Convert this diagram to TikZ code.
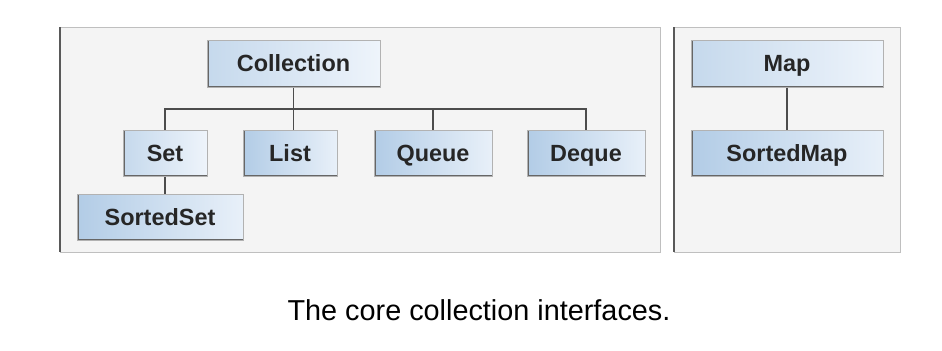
\documentclass[tikz,border=0pt]{standalone}
\usepackage{fontspec}
\setmainfont{Liberation Sans}
\usepackage{xcolor}
\usepackage{tikz}
\usetikzlibrary{positioning,calc,backgrounds}
\definecolor{boxblue}{RGB}{178,204,230}
\definecolor{boxpale}{RGB}{238,244,251}
\definecolor{panelgray}{RGB}{244,244,244}

\begin{document}
\begin{tikzpicture}[
  iface/.style={rectangle,draw=black!30,line width=0.6pt,
               left color=boxblue!75,right color=boxpale,
               minimum width=2.8cm,minimum height=1.4cm,align=center,
               text height=13pt,text depth=0pt,
               font=\fontsize{20}{24}\selectfont\bfseries,text=black!85,
               path picture={\draw[line width=2.6pt,black!60]
                 (path picture bounding box.north west) --
                 (path picture bounding box.south west) --
                 (path picture bounding box.south east);}},
  dark/.style={left color=boxblue,right color=boxpale!90!boxblue},
  panel/.style={fill=panelgray,draw=black!25,line width=0.8pt},
  panelside/.style={black!65,line width=1.4pt},
  link/.style={black!70,line width=1.2pt},
  captext/.style={font=\fontsize{24.6}{28}\selectfont}
]
\useasboundingbox (0,0) rectangle (28.26,-10.5);

% panels
\path[panel] (1.8,-0.81) rectangle (19.8,-7.56);
\draw[panelside] (1.8,-0.81) -- (1.8,-7.56);
\path[panel] (20.22,-0.81) rectangle (27.0,-7.56);
\draw[panelside] (20.22,-0.81) -- (20.22,-7.56);

\node[iface,minimum width=5.19cm] (coll) at (8.805,-1.92) {Collection};
\node[iface,minimum width=2.52cm] (set) at (4.95,-4.605) {Set};
\node[iface,dark,minimum width=2.82cm] (list) at (8.70,-4.605) {List};
\node[iface,dark,minimum width=3.54cm] (queue) at (12.99,-4.605) {Queue};
\node[iface,dark,minimum width=3.54cm] (deque) at (17.58,-4.605) {Deque};
\node[iface,dark,minimum width=4.98cm] (sset) at (4.80,-6.525) {SortedSet};

\node[iface,minimum width=5.76cm] (map) at (23.61,-1.92) {Map};
\node[iface,dark,minimum width=5.76cm] (smap) at (23.61,-4.605) {SortedMap};

\coordinate (bus) at (0,-3.27);
\draw[link] (coll.south) -- (coll.south |- list.north);
\draw[link] (set.north) -- (set.north |- bus) -- (deque.north |- bus) -- (deque.north);
\draw[link] (queue.north) -- (queue.north |- bus);
\draw[link] (set.south) -- (set.south |- sset.north);
\draw[link] (map.south) -- (smap.north);

\node[captext] (caption) at (14.37,-9.3) {The core collection interfaces.};
\end{tikzpicture}
\end{document}
